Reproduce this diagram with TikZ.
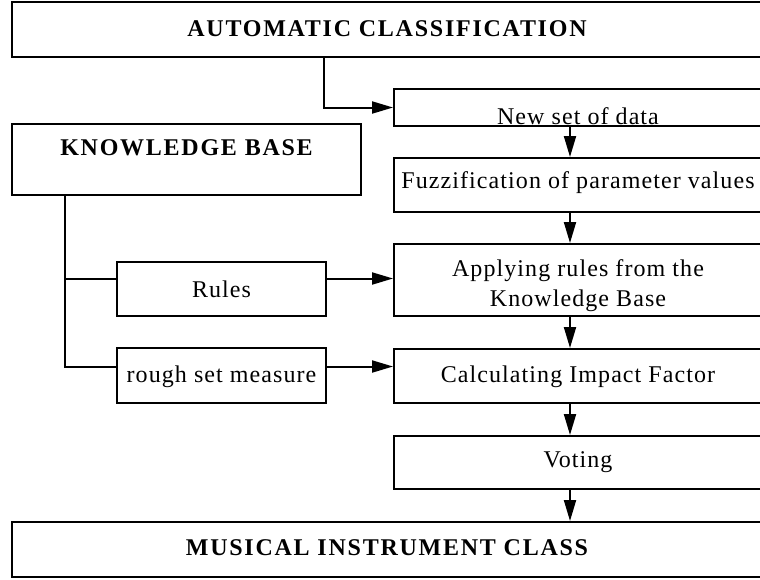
\documentclass[tikz,border=0pt]{standalone}
\usepackage{fontspec}
\setmainfont{Liberation Serif}[LetterSpace=4.5,BoldFeatures={LetterSpace=7.3}]
\usetikzlibrary{arrows.meta}

\tikzset{
  box/.style={draw, line width=2pt, inner sep=0pt, font=\fontsize{24pt}{30pt}\selectfont},
  headbox/.style={box, font=\fontsize{24pt}{30pt}\selectfont\bfseries},
  line/.style={line width=2pt},
  arr/.style={line, -{Triangle[length=21pt,width=12pt]}},
}

\begin{document}
\begin{tikzpicture}[x=1pt, y=-1pt]
\useasboundingbox (0,0) rectangle (760,579);

% Main column
\node[headbox, minimum width=750pt, text height=34pt, text depth=21pt] (auto) at (387,29.5) {AUTOMATIC CLASSIFICATION};
\node[box, minimum width=368pt, text height=35pt, text depth=2pt] (newset) at (578,107.5) {New set of data};
\node[box, minimum width=368pt, text height=30pt, text depth=24pt] (fuzz) at (578,185) {Fuzzification of parameter values};
\node[box, minimum width=368pt, minimum height=72pt, align=center] (apply) at (578,280) {\rule{0pt}{29pt}Applying rules from the\\Knowledge Base};
\node[box, minimum width=368pt, text height=33pt, text depth=21pt] (calc) at (578,376) {Calculating Impact Factor};
\node[box, minimum width=368pt, text height=31pt, text depth=22pt] (vote) at (578,462.5) {Voting};
\node[headbox, minimum width=750pt, text height=33pt, text depth=22pt] (class) at (387,549.5) {MUSICAL INSTRUMENT CLASS};

% Knowledge base side
\node[headbox, minimum width=349pt, text height=31pt, text depth=40pt] (kb) at (186.5,159.5) {KNOWLEDGE BASE};
\node[box, minimum width=209pt, text height=35pt, text depth=19pt] (rules) at (221.5,289) {Rules};
\node[box, minimum width=209pt, text height=34pt, text depth=21pt] (rough) at (221.5,375.5) {rough set measure};

% Connectors
\coordinate (drop) at (324,0);
\coordinate (mid) at (570,0);
\coordinate (trunk) at (65,0);

\draw[arr] (auto.south -| drop) |- (newset.west);
\draw[arr] (newset.south -| mid) -- (fuzz.north -| mid);
\draw[arr] (fuzz.south -| mid) -- (apply.north -| mid);
\draw[arr] (apply.south -| mid) -- (calc.north -| mid);
\draw[arr] (calc.south -| mid) -- (vote.north -| mid);
\draw[arr] (vote.south -| mid) -- (class.north -| mid);

\draw[line] (kb.south -| trunk) |- ([yshift=9pt]rough.west);
\draw[line] ([yshift=10.5pt]rules.west -| trunk) -- ([yshift=10.5pt]rules.west);
\draw[arr] ([yshift=10.5pt]rules.east) -- ([yshift=10.5pt]rules.east -| apply.west);
\draw[arr] ([yshift=9pt]rough.east) -- ([yshift=9pt]rough.east -| calc.west);

\end{tikzpicture}
\end{document}
